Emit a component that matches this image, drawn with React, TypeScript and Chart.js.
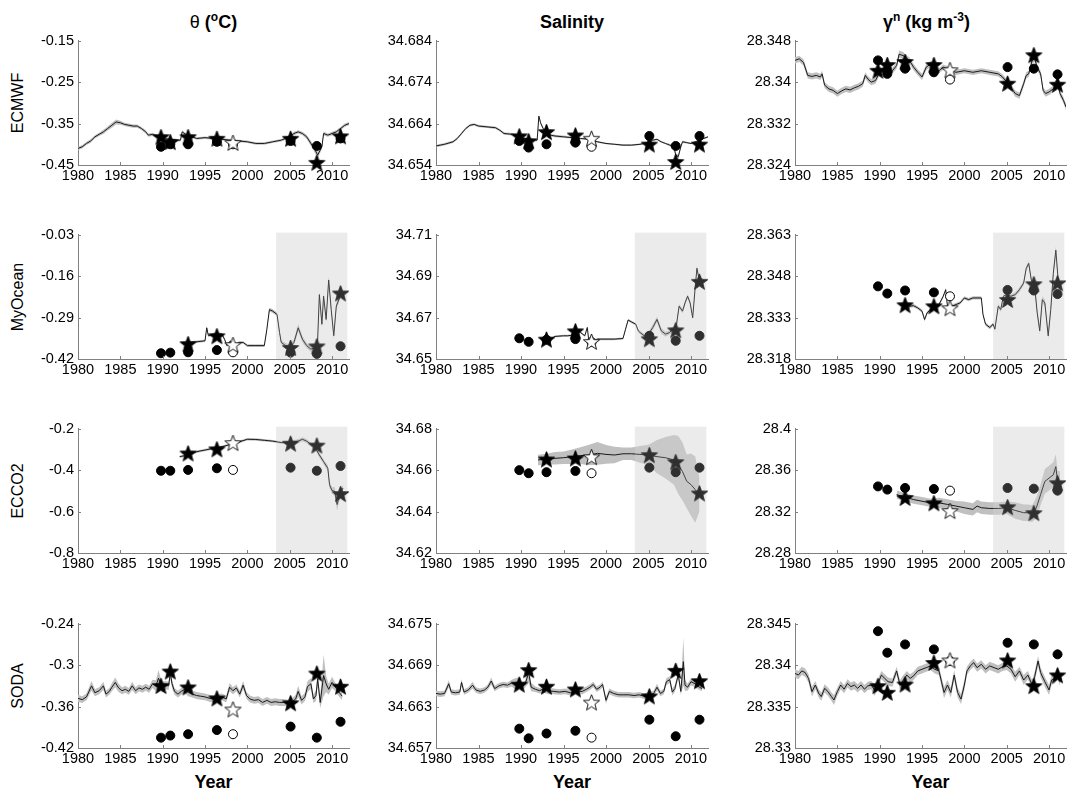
import React, { useEffect, useRef } from 'react';
import { Chart, registerables } from 'chart.js';

Chart.register(...registerables);

const FONT = '"Liberation Sans", Arial, Helvetica, sans-serif';

// ---------------- data ----------------
const xTicks = [1980, 1985, 1990, 1995, 2000, 2005, 2010];
const obsYears = [1989.8, 1990.9, 1993.0, 1996.4, 1998.3, 2005.1, 2008.2, 2011.0];
const openIndex = 4;
const shadeRange = [2003.4, 2011.8];

const columnTitles = ['θ', 'Salinity', 'γ'];
const rowLabels = ['ECMWF', 'MyOcean', 'ECCO2', 'SODA'];

// rows: [year, value, half-width of grey band]
const ecmwfTheta = [
  [1980, -0.410, 0.004], [1980.5, -0.406, 0.004], [1981, -0.398, 0.004], [1981.5, -0.392, 0.004], [1982, -0.382, 0.004],
  [1982.5, -0.376, 0.004], [1983, -0.370, 0.005], [1983.5, -0.362, 0.005], [1984, -0.354, 0.006], [1984.5, -0.346, 0.006],
  [1985, -0.348, 0.005], [1985.5, -0.352, 0.004], [1986, -0.354, 0.004], [1986.5, -0.356, 0.004], [1987, -0.356, 0.004],
  [1987.5, -0.362, 0.004], [1988, -0.370, 0.004], [1988.3, -0.378, 0.004], [1988.8, -0.376, 0.004], [1989.5, -0.382, 0.003],
  [1990, -0.386, 0.003], [1991, -0.388, 0.003], [1991.8, -0.390, 0.003], [1992.1, -0.390, 0.003], [1992.3, -0.370, 0.004],
  [1992.7, -0.376, 0.003], [1993, -0.378, 0.003], [1994, -0.386, 0.003], [1995, -0.384, 0.003], [1996, -0.386, 0.003],
  [1997, -0.388, 0.003], [1998, -0.390, 0.003], [1999, -0.392, 0.003], [2000, -0.394, 0.003], [2001, -0.398, 0.003],
  [2002, -0.398, 0.003], [2003, -0.394, 0.003], [2004, -0.390, 0.003], [2005, -0.382, 0.004], [2005.5, -0.374, 0.004],
  [2006, -0.370, 0.004], [2006.5, -0.374, 0.004], [2007, -0.382, 0.005], [2007.5, -0.398, 0.006], [2008, -0.414, 0.008],
  [2008.3, -0.426, 0.008], [2008.8, -0.406, 0.006], [2009, -0.374, 0.005], [2009.5, -0.378, 0.004], [2010, -0.374, 0.004],
  [2010.5, -0.370, 0.004], [2011, -0.362, 0.004], [2011.5, -0.354, 0.004], [2012, -0.350, 0.004],
];
const ecmwfThetaDots = [-0.406, -0.400, -0.400, -0.394, -0.400, -0.392, -0.404, -0.386];
const ecmwfThetaStars = [-0.384, -0.396, -0.384, -0.388, -0.398, -0.388, -0.446, -0.382];
const ecmwfThetaTicks = [-0.45, -0.35, -0.25, -0.15];

const ecmwfSal = [
  [1980, 34.6586, 0.0003], [1981, 34.6590, 0.0003], [1982, 34.6596, 0.0003], [1982.5, 34.6604, 0.0003], [1983, 34.6616, 0.0003],
  [1983.5, 34.6628, 0.0003], [1984, 34.6636, 0.0003], [1984.5, 34.6638, 0.0003], [1985, 34.6634, 0.0003], [1986, 34.6632, 0.0003],
  [1987, 34.6630, 0.0003], [1987.5, 34.6624, 0.0003], [1988, 34.6616, 0.0003], [1989, 34.6614, 0.0003], [1989.5, 34.6610, 0.0003],
  [1990, 34.6606, 0.0003], [1991, 34.6602, 0.0003], [1991.9, 34.6600, 0.0003], [1992.1, 34.6658, 0.0004], [1992.3, 34.6642, 0.0003],
  [1992.6, 34.6628, 0.0003], [1993, 34.6620, 0.0003], [1993.5, 34.6612, 0.0003], [1994, 34.6610, 0.0003], [1995, 34.6608, 0.0003],
  [1996, 34.6606, 0.0002], [1997, 34.6604, 0.0002], [1998, 34.6602, 0.0002], [1999, 34.6596, 0.0002], [2000, 34.6592, 0.0002],
  [2001, 34.6590, 0.0002], [2002, 34.6588, 0.0002], [2003, 34.6588, 0.0002], [2004, 34.6590, 0.0002], [2005, 34.6594, 0.0002],
  [2005.5, 34.6600, 0.0002], [2006, 34.6602, 0.0002], [2006.5, 34.6596, 0.0002], [2007, 34.6592, 0.0002], [2007.5, 34.6588, 0.0003],
  [2008, 34.6584, 0.0004], [2008.2, 34.6564, 0.0005], [2008.5, 34.6560, 0.0005], [2008.8, 34.6584, 0.0004], [2009, 34.6596, 0.0003],
  [2009.5, 34.6594, 0.0002], [2010, 34.6592, 0.0002], [2010.5, 34.6596, 0.0002], [2011, 34.6600, 0.0002], [2011.5, 34.6604, 0.0002],
  [2012, 34.6608, 0.0002],
];
const ecmwfSalDots = [34.6598, 34.6582, 34.6590, 34.6594, 34.6584, 34.6610, 34.6586, 34.6610];
const ecmwfSalStars = [34.6608, 34.6596, 34.6618, 34.6610, 34.6602, 34.6588, 34.6546, 34.6588];
const ecmwfSalTicks = [34.654, 34.664, 34.674, 34.684];

const ecmwfGam = [
  [1980, 28.3442, 0.0006], [1980.5, 28.3445, 0.0006], [1981, 28.3438, 0.0006], [1981.5, 28.3413, 0.0006], [1982, 28.3411, 0.0006],
  [1982.5, 28.3413, 0.0006], [1983, 28.3410, 0.0006], [1983.2, 28.3416, 0.0006], [1983.5, 28.3394, 0.0006], [1984, 28.3387, 0.0006],
  [1984.5, 28.3384, 0.0006], [1985, 28.3378, 0.0006], [1985.5, 28.3383, 0.0006], [1986, 28.3387, 0.0006], [1986.5, 28.3385, 0.0006],
  [1987, 28.3389, 0.0006], [1987.5, 28.3392, 0.0006], [1988, 28.3397, 0.0006], [1988.3, 28.3413, 0.0006], [1988.6, 28.3406, 0.0006],
  [1989, 28.3400, 0.0006], [1989.5, 28.3403, 0.0006], [1990, 28.3419, 0.0006], [1990.5, 28.3426, 0.0006], [1991, 28.3429, 0.0006],
  [1991.5, 28.3422, 0.0006], [1992, 28.3432, 0.0006], [1992.3, 28.3454, 0.0007], [1992.8, 28.3451, 0.0007], [1993, 28.3448, 0.0006],
  [1993.5, 28.3442, 0.0006], [1994, 28.3429, 0.0006], [1994.5, 28.3419, 0.0006], [1995, 28.3410, 0.0006], [1995.5, 28.3429, 0.0006],
  [1996, 28.3435, 0.0006], [1996.5, 28.3429, 0.0006], [1997, 28.3422, 0.0005], [1997.5, 28.3429, 0.0005], [1998, 28.3426, 0.0005],
  [1998.5, 28.3422, 0.0005], [1999, 28.3419, 0.0005], [2000, 28.3422, 0.0005], [2001, 28.3419, 0.0005], [2002, 28.3422, 0.0005],
  [2003, 28.3419, 0.0005], [2004, 28.3416, 0.0005], [2004.5, 28.3410, 0.0005], [2005, 28.3400, 0.0006], [2005.5, 28.3390, 0.0006],
  [2006, 28.3378, 0.0006], [2006.5, 28.3374, 0.0006], [2007, 28.3397, 0.0006], [2007.3, 28.3413, 0.0006], [2007.6, 28.3416, 0.0006],
  [2008, 28.3442, 0.0006], [2008.3, 28.3445, 0.0006], [2008.6, 28.3429, 0.0006], [2009, 28.3416, 0.0006], [2009.3, 28.3384, 0.0006],
  [2009.6, 28.3378, 0.0006], [2010, 28.3381, 0.0006], [2010.5, 28.3387, 0.0006], [2011, 28.3397, 0.0006], [2011.3, 28.3378, 0.0006],
  [2011.7, 28.3365, 0.0006], [2012, 28.3352, 0.0006],
];
const ecmwfGamDots = [28.3442, 28.3416, 28.3426, 28.3419, 28.3405, 28.3429, 28.3426, 28.3415];
const ecmwfGamStars = [28.3421, 28.3432, 28.3438, 28.3432, 28.3422, 28.3396, 28.3451, 28.3394];
const ecmwfGamTicks = [28.324, 28.332, 28.34, 28.348];

const myoTheta = [
  [1993.2, -0.368, 0.004], [1994, -0.366, 0.004], [1995, -0.363, 0.004], [1995.2, -0.322, 0.005], [1995.4, -0.347, 0.004],
  [1996, -0.342, 0.004], [1997, -0.342, 0.004], [1997.3, -0.358, 0.004], [1997.6, -0.378, 0.004], [1998, -0.363, 0.004],
  [1998.3, -0.384, 0.004], [1999, -0.368, 0.004], [1999.5, -0.368, 0.004], [2000, -0.378, 0.004], [2001, -0.378, 0.004],
  [2002, -0.378, 0.004], [2002.3, -0.327, 0.005], [2002.6, -0.265, 0.006], [2003, -0.270, 0.006], [2003.5, -0.280, 0.006],
  [2003.8, -0.337, 0.006], [2004, -0.368, 0.006], [2004.5, -0.378, 0.008], [2005, -0.384, 0.008], [2005.5, -0.368, 0.010],
  [2006, -0.322, 0.012], [2006.5, -0.358, 0.010], [2007, -0.378, 0.008], [2007.5, -0.389, 0.008], [2008, -0.384, 0.008],
  [2008.3, -0.358, 0.008], [2008.5, -0.218, 0.010], [2008.8, -0.311, 0.010], [2009, -0.223, 0.010], [2009.3, -0.296, 0.010],
  [2009.6, -0.172, 0.012], [2009.9, -0.265, 0.010], [2010.2, -0.347, 0.010], [2010.5, -0.254, 0.010], [2010.8, -0.234, 0.010],
  [2011, -0.218, 0.008], [2011.3, -0.213, 0.008],
];
const myoThetaDots = [-0.402, -0.400, -0.399, -0.392, -0.399, -0.400, -0.404, -0.380];
const myoThetaStars = [null, null, -0.375, -0.350, -0.378, -0.387, -0.382, -0.216];
const myoThetaTicks = [-0.42, -0.29, -0.16, -0.03];

const myoSal = [
  [1993.5, 34.6596, 0.0005], [1994, 34.6609, 0.0005], [1995, 34.6612, 0.0005], [1995.5, 34.6612, 0.0005], [1996, 34.6615, 0.0005],
  [1996.5, 34.6636, 0.0005], [1997, 34.6628, 0.0005], [1997.5, 34.6612, 0.0005], [1997.8, 34.6652, 0.0006], [1998, 34.6580, 0.0005],
  [1998.5, 34.6588, 0.0005], [1999, 34.6596, 0.0005], [2000, 34.6596, 0.0005], [2001, 34.6596, 0.0005], [2002, 34.6599, 0.0005],
  [2002.3, 34.6644, 0.0006], [2002.6, 34.6688, 0.0006], [2003, 34.6679, 0.0006], [2003.5, 34.6668, 0.0006], [2003.8, 34.6636, 0.0008],
  [2004, 34.6628, 0.0008], [2004.5, 34.6612, 0.0010], [2005, 34.6620, 0.0012], [2005.5, 34.6652, 0.0014], [2006, 34.6691, 0.0014],
  [2006.5, 34.6636, 0.0014], [2007, 34.6620, 0.0012], [2007.5, 34.6628, 0.0010], [2008, 34.6652, 0.0010], [2008.3, 34.6668, 0.0010],
  [2008.6, 34.6755, 0.0010], [2009, 34.6731, 0.0010], [2009.3, 34.6771, 0.0010], [2009.6, 34.6803, 0.0010], [2009.9, 34.6771, 0.0010],
  [2010.2, 34.6699, 0.0010], [2010.5, 34.6850, 0.0012], [2010.7, 34.6938, 0.0012], [2011, 34.6874, 0.0010], [2011.3, 34.6890, 0.0010],
];
const myoSalDots = [34.6600, 34.6583, 34.6593, 34.6596, 34.6582, 34.6612, 34.6588, 34.6612];
const myoSalStars = [null, null, 34.6591, 34.6631, 34.6580, 34.6593, 34.6636, 34.6870];
const myoSalTicks = [34.65, 34.67, 34.69, 34.71];

const myoGam = [
  [1993, 28.3377, 0.0006], [1993.5, 28.3371, 0.0006], [1994, 28.3373, 0.0006], [1994.5, 28.3365, 0.0006], [1995, 28.3353, 0.0006],
  [1995.3, 28.3323, 0.0007], [1995.6, 28.3347, 0.0006], [1996, 28.3359, 0.0006], [1996.5, 28.3365, 0.0006], [1997, 28.3377, 0.0006],
  [1997.5, 28.3407, 0.0006], [1997.8, 28.3431, 0.0007], [1998, 28.3371, 0.0006], [1998.5, 28.3371, 0.0006], [1999, 28.3377, 0.0006],
  [1999.5, 28.3383, 0.0006], [2000, 28.3401, 0.0006], [2000.5, 28.3395, 0.0006], [2001, 28.3401, 0.0006], [2002, 28.3401, 0.0006],
  [2002.2, 28.3341, 0.0006], [2002.5, 28.3306, 0.0006], [2003, 28.3294, 0.0006], [2003.4, 28.3306, 0.0006], [2003.6, 28.3288, 0.0006],
  [2004, 28.3371, 0.0008], [2004.3, 28.3359, 0.0008], [2004.6, 28.3407, 0.0008], [2005, 28.3413, 0.0008], [2005.5, 28.3407, 0.0008],
  [2006, 28.3413, 0.0008], [2006.5, 28.3431, 0.0008], [2007, 28.3455, 0.0008], [2007.3, 28.3508, 0.0009], [2007.6, 28.3526, 0.0009],
  [2007.9, 28.3467, 0.0009], [2008.3, 28.3443, 0.0010], [2008.6, 28.3347, 0.0012], [2008.9, 28.3282, 0.0012], [2009.2, 28.3395, 0.0012],
  [2009.5, 28.3383, 0.0012], [2009.9, 28.3264, 0.0012], [2010.2, 28.3359, 0.0012], [2010.5, 28.3490, 0.0012], [2010.8, 28.3574, 0.0014],
  [2011.1, 28.3455, 0.0012], [2011.4, 28.3431, 0.0010],
];
const myoGamDots = [28.3443, 28.3417, 28.3428, 28.3421, 28.3407, 28.3430, 28.3428, 28.3415];
const myoGamStars = [null, null, 28.3373, 28.3369, 28.3362, 28.3392, 28.3449, 28.3452];
const myoGamTicks = [28.318, 28.333, 28.348, 28.363];

const eccoTheta = [
  [1992, -0.335, 0.006], [1993, -0.327, 0.006], [1994, -0.311, 0.006], [1995, -0.303, 0.006], [1996, -0.295, 0.006],
  [1997, -0.287, 0.006], [1998, -0.276, 0.006], [1999, -0.264, 0.006], [2000, -0.251, 0.006], [2001, -0.252, 0.006],
  [2002, -0.256, 0.006], [2003, -0.260, 0.006], [2004, -0.267, 0.006], [2005, -0.267, 0.008], [2006, -0.260, 0.010],
  [2006.5, -0.251, 0.010], [2007, -0.260, 0.010], [2007.5, -0.276, 0.010], [2008, -0.292, 0.010], [2008.5, -0.327, 0.012],
  [2009, -0.359, 0.012], [2009.5, -0.391, 0.014], [2009.7, -0.470, 0.016], [2010, -0.499, 0.016], [2010.3, -0.502, 0.020],
  [2010.6, -0.566, 0.030], [2010.8, -0.534, 0.025], [2011, -0.510, 0.020], [2011.3, -0.486, 0.016],
];
const eccoThetaDots = [-0.403, -0.403, -0.399, -0.391, -0.399, -0.388, -0.403, -0.380];
const eccoThetaStars = [null, null, -0.322, -0.302, -0.272, -0.275, -0.284, -0.518];
const eccoThetaTicks = [-0.8, -0.6, -0.4, -0.2];

const eccoSal = [
  [1992, 34.6649, 0.0025], [1993, 34.6654, 0.0025], [1994, 34.6657, 0.0030], [1995, 34.6660, 0.0030], [1996, 34.6665, 0.0035],
  [1997, 34.6670, 0.0040], [1998, 34.6673, 0.0050], [1999, 34.6681, 0.0055], [2000, 34.6676, 0.0045], [2001, 34.6673, 0.0040],
  [2002, 34.6679, 0.0030], [2003, 34.6679, 0.0030], [2004, 34.6676, 0.0040], [2005, 34.6673, 0.0050], [2006, 34.6665, 0.0080],
  [2007, 34.6660, 0.0100], [2008, 34.6649, 0.0120], [2008.5, 34.6625, 0.0140], [2009, 34.6593, 0.0140], [2009.5, 34.6546, 0.0130],
  [2010, 34.6530, 0.0150], [2010.5, 34.6506, 0.0160], [2011, 34.6482, 0.0080],
];
const eccoSalDots = [34.6600, 34.6585, 34.6590, 34.6596, 34.6585, 34.6612, 34.6590, 34.6612];
const eccoSalStars = [null, null, 34.6649, 34.6654, 34.6660, 34.6670, 34.6636, 34.6485];
const eccoSalTicks = [34.62, 34.64, 34.66, 34.68];

const eccoGam = [
  [1992, 28.3364, 0.004], [1993, 28.3339, 0.004], [1994, 28.3316, 0.004], [1995, 28.3300, 0.004], [1996, 28.3284, 0.004],
  [1997, 28.3284, 0.005], [1998, 28.3269, 0.005], [1999, 28.3253, 0.005], [2000, 28.3237, 0.006], [2001, 28.3221, 0.006],
  [2001.5, 28.3253, 0.006], [2002, 28.3237, 0.006], [2003, 28.3230, 0.006], [2004, 28.3230, 0.006], [2005, 28.3237, 0.006],
  [2006, 28.3211, 0.008], [2007, 28.3189, 0.008], [2007.5, 28.3189, 0.008], [2008, 28.3180, 0.008], [2008.5, 28.3237, 0.010],
  [2009, 28.3364, 0.010], [2009.5, 28.3491, 0.012], [2010, 28.3523, 0.012], [2010.5, 28.3555, 0.012], [2010.8, 28.3634, 0.012],
  [2011, 28.3491, 0.010], [2011.3, 28.3491, 0.010],
];
const eccoGamDots = [28.3443, 28.3412, 28.3428, 28.3418, 28.3402, 28.3428, 28.3421, 28.3402];
const eccoGamStars = [null, null, 28.3326, 28.3275, 28.3200, 28.3237, 28.3180, 28.3469];
const eccoGamTicks = [28.28, 28.32, 28.36, 28.4];

const sodaTheta = [
  [1980, -0.348, 0.005], [1980.5, -0.350, 0.005], [1981, -0.346, 0.005], [1981.3, -0.338, 0.006], [1981.6, -0.330, 0.007],
  [1982, -0.340, 0.005], [1982.5, -0.337, 0.005], [1983, -0.330, 0.006], [1983.3, -0.342, 0.005], [1983.7, -0.338, 0.005],
  [1984, -0.332, 0.006], [1984.4, -0.325, 0.007], [1984.8, -0.333, 0.006], [1985.2, -0.337, 0.005], [1985.6, -0.335, 0.005],
  [1986, -0.338, 0.005], [1986.4, -0.330, 0.006], [1986.8, -0.337, 0.005], [1987.2, -0.333, 0.005], [1987.6, -0.335, 0.005],
  [1988, -0.332, 0.005], [1988.4, -0.335, 0.005], [1988.8, -0.327, 0.006], [1989.2, -0.330, 0.008], [1989.5, -0.319, 0.012],
  [1989.9, -0.332, 0.008], [1990.3, -0.329, 0.006], [1990.7, -0.330, 0.006], [1990.9, -0.311, 0.008], [1991.1, -0.327, 0.006],
  [1991.4, -0.338, 0.005], [1991.8, -0.342, 0.005], [1992.2, -0.338, 0.005], [1992.6, -0.335, 0.005], [1993, -0.339, 0.006],
  [1993.5, -0.342, 0.005], [1994, -0.344, 0.005], [1994.5, -0.345, 0.005], [1995, -0.346, 0.005], [1995.5, -0.348, 0.005],
  [1996, -0.349, 0.005], [1996.5, -0.347, 0.005], [1997, -0.346, 0.005], [1997.5, -0.349, 0.005], [1997.9, -0.332, 0.006],
  [1998.3, -0.337, 0.005], [1998.7, -0.333, 0.005], [1999.1, -0.342, 0.005], [1999.5, -0.329, 0.006], [1999.9, -0.344, 0.005],
  [2000.3, -0.349, 0.005], [2000.8, -0.351, 0.005], [2001.3, -0.350, 0.005], [2001.8, -0.354, 0.005], [2002.3, -0.351, 0.005],
  [2002.8, -0.354, 0.005], [2003.3, -0.353, 0.005], [2003.8, -0.354, 0.005], [2004.3, -0.354, 0.005], [2004.8, -0.355, 0.005],
  [2005.3, -0.353, 0.005], [2005.7, -0.349, 0.006], [2006, -0.338, 0.008], [2006.4, -0.351, 0.006], [2006.8, -0.346, 0.006],
  [2007.1, -0.331, 0.008], [2007.5, -0.327, 0.008], [2007.8, -0.349, 0.006], [2008.1, -0.344, 0.008], [2008.3, -0.320, 0.010],
  [2008.6, -0.354, 0.008], [2009, -0.315, 0.030], [2009.3, -0.327, 0.012], [2009.6, -0.335, 0.008], [2010, -0.325, 0.008],
  [2010.4, -0.332, 0.006], [2010.8, -0.339, 0.006], [2011.2, -0.345, 0.006],
];
const sodaThetaDots = [-0.405, -0.402, -0.400, -0.394, -0.400, -0.389, -0.405, -0.382];
const sodaThetaStars = [-0.331, -0.310, -0.333, -0.349, -0.365, -0.356, -0.313, -0.332];
const sodaThetaTicks = [-0.42, -0.36, -0.3, -0.24];

const sodaSal = [
  [1980, 34.6649, 0.0004], [1980.5, 34.6648, 0.0004], [1981, 34.6649, 0.0004], [1981.5, 34.6663, 0.0005], [1981.8, 34.6651, 0.0004],
  [1982.3, 34.6650, 0.0004], [1982.8, 34.6651, 0.0004], [1983, 34.6665, 0.0005], [1983.3, 34.6651, 0.0004], [1983.8, 34.6654, 0.0004],
  [1984.3, 34.6661, 0.0005], [1984.7, 34.6654, 0.0004], [1985.2, 34.6652, 0.0004], [1985.7, 34.6654, 0.0004], [1986.1, 34.6658, 0.0004],
  [1986.5, 34.6667, 0.0005], [1986.9, 34.6656, 0.0004], [1987.4, 34.6660, 0.0004], [1987.9, 34.6662, 0.0004], [1988.4, 34.6661, 0.0004],
  [1988.9, 34.6664, 0.0005], [1989.3, 34.6663, 0.0008], [1989.7, 34.6666, 0.0006], [1990.1, 34.6658, 0.0005], [1990.5, 34.6663, 0.0005],
  [1990.9, 34.6679, 0.0015], [1991.2, 34.6658, 0.0006], [1991.7, 34.6655, 0.0004], [1992.2, 34.6653, 0.0004], [1992.7, 34.6656, 0.0006],
  [1993.2, 34.6653, 0.0005], [1993.8, 34.6652, 0.0004], [1994.5, 34.6651, 0.0004], [1995.2, 34.6652, 0.0004], [1995.8, 34.6650, 0.0004],
  [1996.5, 34.6651, 0.0004], [1997.2, 34.6652, 0.0004], [1997.7, 34.6655, 0.0004], [1998.1, 34.6658, 0.0004], [1998.5, 34.6662, 0.0004],
  [1998.9, 34.6655, 0.0004], [1999.3, 34.6658, 0.0004], [1999.6, 34.6662, 0.0004], [2000, 34.6639, 0.0005], [2000.4, 34.6652, 0.0004],
  [2000.9, 34.6649, 0.0004], [2001.5, 34.6647, 0.0004], [2002.1, 34.6647, 0.0004], [2002.7, 34.6647, 0.0004], [2003.3, 34.6646, 0.0004],
  [2003.9, 34.6647, 0.0004], [2004.5, 34.6645, 0.0004], [2005.1, 34.6647, 0.0004], [2005.6, 34.6649, 0.0004], [2006, 34.6658, 0.0005],
  [2006.4, 34.6649, 0.0004], [2006.8, 34.6652, 0.0004], [2007.1, 34.6666, 0.0005], [2007.5, 34.6669, 0.0005], [2007.8, 34.6651, 0.0005],
  [2008.1, 34.6656, 0.0005], [2008.5, 34.6676, 0.0006], [2008.8, 34.6652, 0.0005], [2009.1, 34.6695, 0.0035], [2009.3, 34.6661, 0.0008],
  [2009.6, 34.6658, 0.0005], [2010, 34.6666, 0.0005], [2010.5, 34.6663, 0.0005], [2011, 34.6658, 0.0004], [2011.3, 34.6656, 0.0004],
];
const sodaSalDots = [34.6598, 34.6584, 34.6591, 34.6595, 34.6585, 34.6611, 34.6587, 34.6611];
const sodaSalStars = [34.6661, 34.6682, 34.6658, 34.6654, 34.6635, 34.6644, 34.6681, 34.6666];
const sodaSalTicks = [34.657, 34.663, 34.669, 34.675];

const sodaGam = [
  [1980, 28.3390, 0.0005], [1980.4, 28.3388, 0.0005], [1980.8, 28.3393, 0.0005], [1981.2, 28.3391, 0.0005], [1981.6, 28.3384, 0.0005],
  [1982, 28.3368, 0.0006], [1982.4, 28.3376, 0.0005], [1982.8, 28.3366, 0.0005], [1983.1, 28.3362, 0.0005], [1983.5, 28.3372, 0.0005],
  [1983.9, 28.3368, 0.0005], [1984.3, 28.3362, 0.0005], [1984.6, 28.3358, 0.0006], [1985, 28.3368, 0.0005], [1985.4, 28.3376, 0.0005],
  [1985.8, 28.3371, 0.0005], [1986.2, 28.3378, 0.0005], [1986.6, 28.3374, 0.0005], [1987, 28.3376, 0.0005], [1987.4, 28.3372, 0.0005],
  [1987.8, 28.3376, 0.0005], [1988.2, 28.3371, 0.0005], [1988.6, 28.3375, 0.0005], [1989, 28.3376, 0.0005], [1989.4, 28.3370, 0.0007],
  [1989.8, 28.3378, 0.0006], [1990.2, 28.3388, 0.0005], [1990.6, 28.3384, 0.0005], [1991, 28.3380, 0.0005], [1991.5, 28.3379, 0.0005],
  [1992, 28.3393, 0.0005], [1992.4, 28.3376, 0.0006], [1992.8, 28.3382, 0.0006], [1993.2, 28.3388, 0.0005], [1993.6, 28.3384, 0.0005],
  [1994, 28.3387, 0.0005], [1994.5, 28.3393, 0.0005], [1995, 28.3395, 0.0005], [1995.5, 28.3397, 0.0005], [1996, 28.3399, 0.0005],
  [1996.5, 28.3395, 0.0005], [1997, 28.3393, 0.0005], [1997.3, 28.3380, 0.0006], [1997.6, 28.3367, 0.0007], [1998, 28.3376, 0.0006],
  [1998.4, 28.3367, 0.0006], [1998.8, 28.3388, 0.0006], [1999.2, 28.3367, 0.0006], [1999.6, 28.3359, 0.0006], [2000, 28.3376, 0.0006],
  [2000.3, 28.3393, 0.0005], [2000.7, 28.3399, 0.0005], [2001.1, 28.3403, 0.0005], [2001.5, 28.3397, 0.0005], [2002, 28.3401, 0.0005],
  [2002.5, 28.3395, 0.0005], [2003, 28.3399, 0.0005], [2003.5, 28.3397, 0.0005], [2004, 28.3395, 0.0005], [2004.5, 28.3398, 0.0005],
  [2005, 28.3399, 0.0005], [2005.5, 28.3395, 0.0005], [2006, 28.3386, 0.0006], [2006.5, 28.3393, 0.0005], [2007, 28.3382, 0.0006],
  [2007.5, 28.3388, 0.0005], [2008, 28.3376, 0.0006], [2008.3, 28.3386, 0.0006], [2008.7, 28.3405, 0.0006], [2009, 28.3391, 0.0006],
  [2009.5, 28.3380, 0.0006], [2010, 28.3370, 0.0006], [2010.3, 28.3382, 0.0006], [2010.7, 28.3384, 0.0006], [2011, 28.3388, 0.0005],
  [2011.3, 28.3380, 0.0005],
];
const sodaGamDots = [28.3441, 28.3415, 28.3425, 28.3419, 28.3405, 28.3427, 28.3425, 28.3413];
const sodaGamStars = [28.3374, 28.3366, 28.3376, 28.3402, 28.3405, 28.3405, 28.3374, 28.3387];
const sodaGamTicks = [28.33, 28.335, 28.34, 28.345];

type Series = number[][];
type PanelData = { series: Series; dots: (number | null)[]; stars: (number | null)[]; yTicks: number[]; shaded: boolean };

const panels: PanelData[][] = [
  [
    { series: ecmwfTheta, dots: ecmwfThetaDots, stars: ecmwfThetaStars, yTicks: ecmwfThetaTicks, shaded: false },
    { series: ecmwfSal, dots: ecmwfSalDots, stars: ecmwfSalStars, yTicks: ecmwfSalTicks, shaded: false },
    { series: ecmwfGam, dots: ecmwfGamDots, stars: ecmwfGamStars, yTicks: ecmwfGamTicks, shaded: false },
  ],
  [
    { series: myoTheta, dots: myoThetaDots, stars: myoThetaStars, yTicks: myoThetaTicks, shaded: true },
    { series: myoSal, dots: myoSalDots, stars: myoSalStars, yTicks: myoSalTicks, shaded: true },
    { series: myoGam, dots: myoGamDots, stars: myoGamStars, yTicks: myoGamTicks, shaded: true },
  ],
  [
    { series: eccoTheta, dots: eccoThetaDots, stars: eccoThetaStars, yTicks: eccoThetaTicks, shaded: true },
    { series: eccoSal, dots: eccoSalDots, stars: eccoSalStars, yTicks: eccoSalTicks, shaded: true },
    { series: eccoGam, dots: eccoGamDots, stars: eccoGamStars, yTicks: eccoGamTicks, shaded: true },
  ],
  [
    { series: sodaTheta, dots: sodaThetaDots, stars: sodaThetaStars, yTicks: sodaThetaTicks, shaded: false },
    { series: sodaSal, dots: sodaSalDots, stars: sodaSalStars, yTicks: sodaSalTicks, shaded: false },
    { series: sodaGam, dots: sodaGamDots, stars: sodaGamStars, yTicks: sodaGamTicks, shaded: false },
  ],
];

// ---------------- layout (page pixels) ----------------
const colLefts = [78, 436, 795];
const colWidths = [271, 272, 271];
const rowTops = [40, 234, 428, 623];
const plotHeight = 125;
const padL = 72;
const padT = 12;
const padR = 20;
const padB = 28;
const AXIS_COLOR = '#808080';
const STAR_R = 8.5;
const DOT_R = 4.5;

function makeStar(fill: string, stroke: string, R: number) {
  const size = Math.ceil(2 * R + 4);
  const c = document.createElement('canvas');
  c.width = size;
  c.height = size;
  const g = c.getContext('2d')!;
  const cx = size / 2, cy = size / 2;
  g.beginPath();
  for (let i = 0; i < 10; i++) {
    const r = i % 2 === 0 ? R : R * 0.42;
    const a = -Math.PI / 2 + (i * Math.PI) / 5;
    const px = cx + r * Math.cos(a), py = cy + r * Math.sin(a);
    if (i === 0) g.moveTo(px, py); else g.lineTo(px, py);
  }
  g.closePath();
  g.fillStyle = fill;
  g.fill();
  g.lineWidth = 0.9;
  g.strokeStyle = stroke;
  g.stroke();
  return c;
}

function PanelChart({ data, left, top, width, height }: { data: PanelData; left: number; top: number; width: number; height: number }) {
  const ref = useRef<HTMLCanvasElement | null>(null);
  const W = width + padL + padR;
  const H = height + padT + padB;

  useEffect(() => {
    if (!ref.current) return;
    const starFilled = makeStar('#000', '#000', STAR_R);
    const starOpen = makeStar('#fff', '#000', STAR_R);
    const s = data.series;
    const lower = s.map((r) => ({ x: r[0], y: r[1] - r[2] }));
    const upper = s.map((r) => ({ x: r[0], y: r[1] + r[2] }));
    const line = s.map((r) => ({ x: r[0], y: r[1] }));
    const pick = (arr: (number | null)[], open: boolean) =>
      obsYears
        .map((x, i) => ({ x, y: arr[i], i }))
        .filter((p) => p.y !== null && (open ? p.i === openIndex : p.i !== openIndex))
        .map((p) => ({ x: p.x, y: p.y as number }));
    const yMin = data.yTicks[0];
    const yMax = data.yTicks[data.yTicks.length - 1];

    const decor = {
      id: 'decor',
      beforeDatasetsDraw(chart: any) {
        if (!data.shaded) return;
        const { ctx, chartArea: a, scales } = chart;
        const x0 = scales.x.getPixelForValue(shadeRange[0]);
        const x1 = scales.x.getPixelForValue(shadeRange[1]);
        ctx.save();
        ctx.fillStyle = '#ebebeb';
        ctx.fillRect(x0, a.top - 2, x1 - x0, a.bottom - a.top + 2);
        ctx.restore();
      },
      afterDatasetsDraw(chart: any) {
        const { ctx, chartArea: a, scales } = chart;
        if (data.shaded) {
          const x0 = scales.x.getPixelForValue(shadeRange[0]);
          const x1 = scales.x.getPixelForValue(shadeRange[1]);
          ctx.save();
          ctx.fillStyle = 'rgba(235,235,235,0.2)';
          ctx.fillRect(x0, a.top - 2, x1 - x0, a.bottom - a.top + 2);
          ctx.restore();
        }
        ctx.save();
        ctx.strokeStyle = AXIS_COLOR;
        ctx.lineWidth = 1;
        ctx.beginPath();
        xTicks.forEach((v) => {
          const px = Math.round(scales.x.getPixelForValue(v)) + 0.5;
          ctx.moveTo(px, a.bottom);
          ctx.lineTo(px, a.bottom - 3);
        });
        data.yTicks.forEach((v) => {
          const py = Math.round(scales.y.getPixelForValue(v)) + 0.5;
          ctx.moveTo(a.left, py);
          ctx.lineTo(a.left + 3, py);
        });
        ctx.stroke();
        ctx.restore();
      },
    };

    const chart = new Chart(ref.current, {
      type: 'line',
      data: {
        datasets: [
          { data: lower, borderWidth: 0, pointRadius: 0, fill: false, order: 4, borderColor: 'rgba(0,0,0,0)' } as any,
          { data: upper, borderWidth: 0, pointRadius: 0, fill: '-1', backgroundColor: '#c0c0c0', order: 3, borderColor: 'rgba(0,0,0,0)' } as any,
          { data: line, borderWidth: 1, pointRadius: 0, borderColor: '#1a1a1a', fill: false, order: 2, tension: 0 } as any,
          { data: pick(data.dots, false), showLine: false, pointRadius: DOT_R, pointBorderWidth: 1, pointBackgroundColor: '#000', pointBorderColor: '#000', order: 1, clip: false } as any,
          { data: pick(data.dots, true), showLine: false, pointRadius: DOT_R, pointBorderWidth: 1, pointBackgroundColor: '#fff', pointBorderColor: '#000', order: 1, clip: false } as any,
          { data: pick(data.stars, false), showLine: false, pointRadius: STAR_R, pointStyle: starFilled, order: 0, clip: false } as any,
          { data: pick(data.stars, true), showLine: false, pointRadius: STAR_R, pointStyle: starOpen, order: 0, clip: false } as any,
        ],
      },
      options: {
        animation: false,
        responsive: false,
        events: [],
        layout: { padding: { left: 0, top: padT, right: padR, bottom: 0 } },
        plugins: { legend: { display: false }, tooltip: { enabled: false } },
        scales: {
          x: {
            type: 'linear',
            min: 1980,
            max: 2012,
            afterBuildTicks: (sc: any) => { sc.ticks = xTicks.map((v) => ({ value: v })); },
            afterFit: (sc: any) => { sc.height = padB; },
            ticks: { font: { family: FONT, size: 14.5 }, color: '#000', padding: 2, maxRotation: 0, autoSkip: false, callback: (v: any) => String(v) },
            grid: { display: false, drawTicks: false },
            border: { display: true, color: AXIS_COLOR, width: 1 },
          },
          y: {
            type: 'linear',
            min: yMin,
            max: yMax,
            afterBuildTicks: (sc: any) => { sc.ticks = data.yTicks.map((v) => ({ value: v })); },
            afterFit: (sc: any) => { sc.width = padL; },
            ticks: { font: { family: FONT, size: 14.5 }, color: '#000', padding: 4, autoSkip: false, callback: (v: any) => String(v) },
            grid: { display: false, drawTicks: false },
            border: { display: true, color: AXIS_COLOR, width: 1 },
          },
        },
      } as any,
      plugins: [decor],
    });
    return () => chart.destroy();
  }, [data]);

  return (
    <canvas
      ref={ref}
      width={W}
      height={H}
      style={{ position: 'absolute', left: left - padL, top: top - padT, width: W, height: H }}
    />
  );
}

const textBase: React.CSSProperties = {
  position: 'absolute',
  transform: 'translate(-50%, -50%)',
  whiteSpace: 'nowrap',
  fontFamily: FONT,
  color: '#000',
  lineHeight: 1,
};

export default function App() {
  const titleY = 22;
  const yearY = 782;
  const colCenters = colLefts.map((l, i) => l + colWidths[i] / 2);
  const supStyle: React.CSSProperties = { fontSize: 12, position: 'relative', top: -7 };
  return (
    <div style={{ position: 'fixed', left: 0, top: 0, width: 1068, height: 793, overflow: 'hidden', background: '#fff' }}>
      <div style={{ ...textBase, left: colCenters[0], top: titleY, fontSize: 18, fontWeight: 'bold' }}>
        <span style={{ fontWeight: 'normal' }}>{columnTitles[0]}</span> (<span style={supStyle}>o</span>C)
      </div>
      <div style={{ ...textBase, left: colCenters[1], top: titleY, fontSize: 18, fontWeight: 'bold' }}>{columnTitles[1]}</div>
      <div style={{ ...textBase, left: colCenters[2] - 4, top: titleY, fontSize: 18, fontWeight: 'bold' }}>
        <span>{columnTitles[2]}</span><span style={supStyle}>n</span> (kg m<span style={supStyle}>-3</span>)
      </div>
      {rowLabels.map((lab, r) => (
        <div
          key={lab}
          style={{ ...textBase, left: 18, top: rowTops[r] + plotHeight / 2, fontSize: 16, transform: 'translate(-50%, -50%) rotate(-90deg)' }}
        >
          {lab}
        </div>
      ))}
      {colCenters.map((cx, c) => (
        <div key={'year' + c} style={{ ...textBase, left: cx, top: yearY, fontSize: 18, fontWeight: 'bold' }}>Year</div>
      ))}
      {panels.map((row, r) =>
        row.map((p, c) => (
          <PanelChart key={r + '-' + c} data={p} left={colLefts[c]} top={rowTops[r]} width={colWidths[c]} height={plotHeight} />
        ))
      )}
    </div>
  );
}
